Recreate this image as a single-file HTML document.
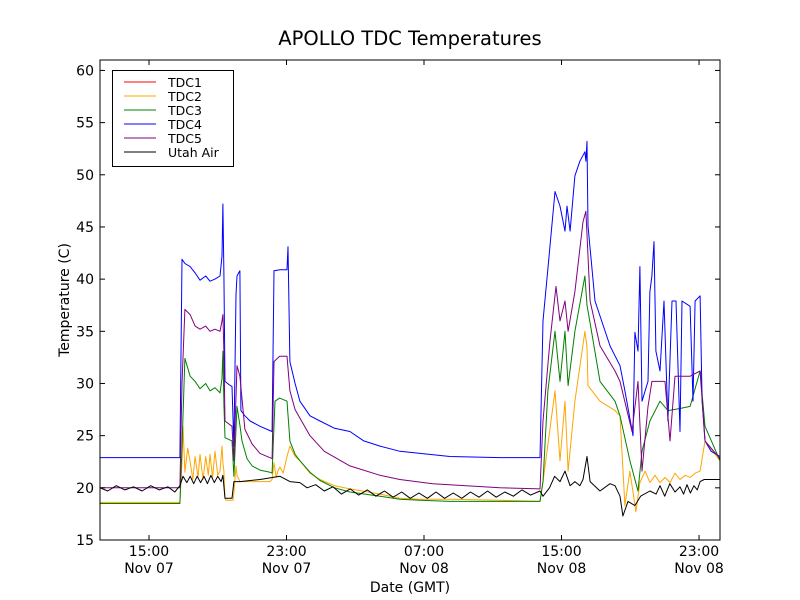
<!DOCTYPE html>
<html><head><meta charset="utf-8">
<style>
html,body{margin:0;padding:0;background:#fff;}
svg{display:block;font-family:"DejaVu Sans","Liberation Sans",sans-serif;}
</style></head>
<body>
<svg id="chart" width="800" height="600" viewBox="0 0 800 600">
<rect width="800" height="600" fill="#fff"/>
<text x="410" y="45" font-size="19.5" text-anchor="middle">APOLLO TDC Temperatures</text>
<g id="plot"></g>
<g id="axes"></g>
<g id="legend"></g>
<text x="410" y="592" font-size="14" text-anchor="middle">Date (GMT)</text>
<text x="0" y="0" font-size="14" text-anchor="middle" transform="translate(69,300) rotate(-90)">Temperature (C)</text>
</svg>
<script>
// time in hours since Nov 07 00:00 GMT, values in deg C
const xTickHours = [15, 23, 31, 39, 47];
const xTickLabels = [["15:00","Nov 07"],["23:00","Nov 07"],["07:00","Nov 08"],["15:00","Nov 08"],["23:00","Nov 08"]];
const yTicks = [15,20,25,30,35,40,45,50,55,60];
const seriesNames = ["TDC1","TDC2","TDC3","TDC4","TDC5","Utah Air"];
const seriesColors = ["red","orange","green","blue","purple","black"];

const tdc1T = [];
const tdc1V = [];

const tdc2T = [12.15,16.8,16.92,16.98,17.09,17.25,17.39,17.55,17.68,17.85,17.97,18.15,18.3,18.45,18.55,18.7,18.84,19.0,19.13,19.25,19.3,19.36,19.42,19.48,19.89,19.94,20.06,20.12,20.29,20.88,21.46,22.04,22.16,22.27,22.4,22.5,22.62,22.8,23.03,23.2,23.5,23.78,24.37,24.95,25.8,26.69,28.44,29.6,30.77,32.51,35.42,37.75,37.92,38.62,38.91,39.2,39.38,39.78,40.36,40.48,40.54,41.24,42.11,42.4,42.69,42.98,43.33,43.56,43.86,44.14,44.44,44.73,45.02,45.31,45.6,45.89,46.2,46.48,46.77,47.06,47.35,48.22];
const tdc2V = [18.6,18.6,22.5,25.9,21.5,23.8,22.5,20.8,23.0,21.0,23.2,20.8,23.0,21.2,23.2,21.0,23.5,21.2,21.6,24.0,22.4,21.6,19.0,18.8,18.8,19.5,22.1,21.2,20.6,20.6,20.6,20.6,20.8,22.4,21.0,21.6,22.0,21.4,23.0,24.0,23.0,22.6,21.4,20.8,20.2,19.9,19.4,19.0,18.9,18.9,18.8,18.7,20.6,29.3,22.6,28.3,21.6,28.3,35.0,33.5,29.8,28.3,27.4,26.9,18.3,21.6,17.7,20.5,21.6,20.5,21.2,20.5,21.0,20.5,21.4,20.8,21.2,21.0,21.4,21.6,24.5,22.6];

const tdc3T = [12.15,16.8,16.92,17.09,17.39,17.68,17.97,18.3,18.55,18.84,19.13,19.25,19.3,19.36,19.42,19.83,19.94,20.12,20.29,20.41,20.7,21.0,21.46,22.04,22.16,22.33,22.6,23.03,23.2,23.5,23.78,24.37,24.95,25.8,26.69,28.44,29.6,30.77,32.51,35.42,37.75,37.92,38.21,38.62,38.91,39.2,39.38,39.78,40.36,40.48,40.66,41.24,42.11,42.4,42.98,43.45,43.68,44.14,44.73,45.19,45.89,46.48,47.06,47.35,48.22];
const tdc3V = [18.5,18.5,24.0,32.4,30.7,30.2,29.5,30.0,29.3,29.6,29.1,30.5,33.1,28.0,24.8,24.5,21.1,27.8,26.0,24.5,22.8,22.1,21.7,21.5,21.4,28.3,28.6,28.3,24.5,23.2,22.6,21.5,20.7,20.0,19.6,19.2,18.9,18.8,18.7,18.7,18.7,20.6,29.3,35.0,30.2,35.0,29.8,35.0,40.3,37.5,35.8,30.2,28.3,26.9,22.6,19.7,23.5,26.4,28.3,27.4,27.6,27.8,31.2,25.9,22.6];

const tdc4T = [12.15,16.8,16.92,17.09,17.39,17.68,17.97,18.3,18.55,18.84,19.13,19.25,19.3,19.36,19.42,19.65,19.83,19.94,20.06,20.12,20.29,20.35,20.58,20.88,21.46,22.16,22.27,22.62,23.03,23.09,23.2,23.5,23.78,24.37,24.95,25.8,26.69,27.5,28.44,29.6,30.77,32.51,35.42,37.75,37.92,38.21,38.62,38.91,39.2,39.32,39.5,39.78,40.07,40.36,40.42,40.48,40.54,40.95,41.82,42.4,42.69,43.16,43.27,43.45,43.56,43.68,44.03,44.14,44.26,44.38,44.49,44.73,44.96,45.19,45.43,45.66,45.89,46.01,46.48,46.65,46.77,47.06,47.18,47.35,47.7,48.22];
const tdc4V = [22.9,22.9,41.9,41.5,41.2,40.6,39.9,40.3,39.8,40.0,40.3,42.2,47.2,40.5,30.2,29.9,29.7,24.0,38.5,40.3,40.8,27.4,26.9,26.4,25.9,25.4,40.8,40.9,40.9,43.1,32.1,30.0,28.3,26.9,26.4,25.7,25.4,24.5,24.0,23.5,23.3,23.0,22.9,22.9,36.0,41.0,48.4,47.0,44.6,47.0,44.6,49.9,51.3,52.2,51.3,53.2,45.1,37.9,33.6,31.7,29.3,25.0,34.9,33.1,41.2,28.3,30.2,38.8,40.3,43.6,33.1,31.2,37.9,26.4,37.9,37.9,25.4,37.9,37.4,28.3,37.9,38.4,28.3,24.5,23.5,23.0];

const tdc5T = [12.15,16.8,16.92,17.09,17.39,17.68,17.97,18.3,18.55,18.84,19.13,19.25,19.3,19.36,19.42,19.83,19.94,20.12,20.29,20.58,21.0,21.46,22.16,22.27,22.6,23.03,23.2,23.5,24.37,25.2,26.69,28.44,29.6,31.5,35.42,37.75,37.92,38.33,38.68,38.91,39.2,39.38,39.78,40.25,40.42,40.66,41.24,42.11,42.4,43.1,43.45,43.68,44.03,44.26,44.49,45.02,45.31,45.6,46.48,47.06,47.35,48.22];
const tdc5V = [20.0,20.0,30.0,37.1,36.6,35.5,35.2,35.5,35.0,35.2,35.0,36.0,36.6,33.0,26.4,25.9,22.6,31.7,30.7,25.6,24.2,23.3,22.8,32.1,32.6,32.6,29.3,27.5,25.0,23.5,22.1,21.2,20.8,20.4,20.0,19.9,26.4,34.1,39.3,36.0,37.9,35.0,38.8,45.5,46.5,37.9,33.6,31.2,30.2,25.4,30.2,21.6,27.8,30.2,30.2,30.2,24.5,30.7,30.7,31.2,24.5,22.8];

const airT = [12.15,12.6,13.1,13.6,14.1,14.6,15.1,15.6,16.1,16.5,16.8,16.98,17.2,17.4,17.6,17.8,18.0,18.2,18.4,18.6,18.8,19.0,19.2,19.3,19.42,19.83,19.94,20.29,21.46,22.62,23.2,23.78,24.2,24.7,25.2,25.7,26.2,26.7,27.2,27.7,28.2,28.7,29.2,29.7,30.2,30.7,31.2,31.7,32.2,32.7,33.2,33.7,34.2,34.7,35.2,35.7,36.2,36.7,37.2,37.75,37.92,38.3,38.6,38.91,39.2,39.5,39.78,40.07,40.25,40.48,40.66,41.24,41.82,42.11,42.4,42.57,42.87,43.27,43.6,44.14,44.5,44.73,45.0,45.3,45.6,45.89,46.1,46.3,46.5,46.7,46.9,47.06,47.3,47.6,48.22];
const airV = [20.0,19.7,20.2,19.8,20.1,19.7,20.2,19.8,20.1,19.6,20.2,21.1,20.5,21.1,20.4,21.1,20.5,21.1,20.4,21.2,20.5,21.1,20.6,21.2,19.0,19.0,20.6,20.6,20.8,21.1,20.6,20.5,20.0,20.3,19.7,20.1,19.4,19.9,19.3,19.8,19.2,19.7,19.1,19.6,19.0,19.5,19.0,19.6,19.0,19.5,19.0,19.6,19.1,19.7,19.1,19.6,19.2,19.8,19.3,19.7,19.2,20.0,21.1,20.6,21.6,20.2,20.6,20.2,20.8,23.0,20.6,19.7,20.4,20.2,19.2,17.3,18.7,18.3,19.2,19.7,19.4,20.2,19.2,20.4,19.6,20.1,19.4,20.3,19.5,20.2,19.8,20.6,20.8,20.8,20.8];

const seriesT = [tdc1T,tdc2T,tdc3T,tdc4T,tdc5T,airT];
const seriesV = [tdc1V,tdc2V,tdc3V,tdc4V,tdc5V,airV];

const PL=100, PT=60, PW=620, PH=480;
const X0=12.15, X1=48.22, Y0=15, Y1=61;
function xs(h){return PL+(h-X0)/(X1-X0)*PW;}
function ys(v){return PT+PH-(v-Y0)/(Y1-Y0)*PH;}
const NS="http://www.w3.org/2000/svg";
function mk(tag,attrs,parent){const e=document.createElementNS(NS,tag);for(const k in attrs)e.setAttribute(k,attrs[k]);parent.appendChild(e);return e;}

const plot=document.getElementById('plot');
const slug=["tdc1","tdc2","tdc3","tdc4","tdc5","utah-air"];
for(let s=0;s<seriesT.length;s++){
  const T=seriesT[s],V=seriesV[s];
  if(!T.length) continue;
  let d="";
  for(let i=0;i<T.length;i++){d+=(i?"L":"M")+xs(T[i]).toFixed(1)+","+ys(V[i]).toFixed(1);}
  const p=mk('path',{d:d,fill:"none",stroke:seriesColors[s],"stroke-width":"1","stroke-linejoin":"round"},plot);
  
  
}

const axes=document.getElementById('axes');
mk('rect',{x:PL,y:PT,width:PW,height:PH,fill:"none",stroke:"#000","stroke-width":"1"},axes);
for(let i=0;i<yTicks.length;i++){
  const y=ys(yTicks[i]);
  mk('line',{x1:PL,x2:PL+5,y1:y,y2:y,stroke:"#000"},axes);
  mk('line',{x1:PL+PW-5,x2:PL+PW,y1:y,y2:y,stroke:"#000"},axes);
  const t=mk('text',{x:PL-6,y:y+5,"font-size":"14","text-anchor":"end"},axes);
  t.textContent=yTicks[i];
  
  
}
for(let i=0;i<xTickHours.length;i++){
  const x=xs(xTickHours[i]);
  mk('line',{x1:x,x2:x,y1:PT+PH-5,y2:PT+PH,stroke:"#000"},axes);
  mk('line',{x1:x,x2:x,y1:PT,y2:PT+5,stroke:"#000"},axes);
  const t=mk('text',{x:x,y:556,"font-size":"14","text-anchor":"middle"},axes);
  t.textContent=xTickLabels[i][0];
  
  
  const t2=mk('text',{x:x,y:573,"font-size":"14","text-anchor":"middle"},axes);
  t2.textContent=xTickLabels[i][1];
  
  
}

const lg=document.getElementById('legend');
mk('rect',{x:112.5,y:70.5,width:121,height:96,fill:"#fff",stroke:"#000","stroke-width":"1"},lg);
for(let s=0;s<seriesNames.length;s++){
  const y=82+s*14;
  const g=mk('g',{},lg);
  
  
  mk('line',{x1:124,x2:156,y1:y,y2:y,stroke:seriesColors[s],"stroke-width":"1"},g);
  const t=mk('text',{x:168,y:y+5,"font-size":"12.5"},g);
  t.textContent=seriesNames[s];
}
</script>
</body></html>
